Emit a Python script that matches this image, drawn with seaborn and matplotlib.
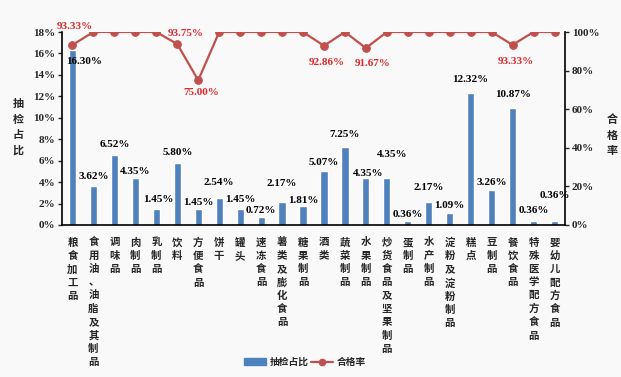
import numpy as np
import pandas as pd
import matplotlib
matplotlib.use("Agg")
import matplotlib.pyplot as plt
import seaborn as sns
from matplotlib.patches import Patch
from matplotlib.lines import Line2D

categories = ['粮食加工品', '食用油、油脂及其制品', '调味品', '肉制品', '乳制品', '饮料',
              '方便食品', '饼干', '罐头', '速冻食品', '薯类及膨化食品', '糖果制品',
              '酒类', '蔬菜制品', '水果制品', '炒货食品及坚果制品', '蛋制品', '水产制品',
              '淀粉及淀粉制品', '糕点', '豆制品', '餐饮食品', '特殊医学配方食品', '婴幼儿配方食品']
share = [16.30, 3.62, 6.52, 4.35, 1.45, 5.80, 1.45, 2.54, 1.45, 0.72, 2.17, 1.81,
         5.07, 7.25, 4.35, 4.35, 0.36, 2.17, 1.09, 12.32, 3.26, 10.87, 0.36, 0.36]
pass_rate = [93.33, 100, 100, 100, 100, 93.75, 75.00, 100, 100, 100, 100, 100,
             92.86, 100, 91.67, 100, 100, 100, 100, 100, 100, 93.33, 100, 100]

# label nudges in pixels (dx, dy up), as placed by hand in the original
bar_dx = [12, 0, 0, 0, 2, 0, 0, 0, 0, 0, 0, 0, 0, 0, 2, 5, 0, 0, 0, 0, 0, 0, 0, 0]
bar_dy = [-11, 10, 11, 7, 10, 10, 7, 15, 10, 7, 18, 5, 8, 13, 5, 24, 7, 14, 8, 13, 8, 14, 11, 26]
rate_off = {0: (2, 18), 5: (8, 11), 6: (3, -12), 12: (3, -17), 14: (7, -15), 21: (3, -17)}

BLUE = '#4F81BD'
RED = '#C0504D'
LABEL_RED = '#E3262A'
BG = '#F9F9F9'
num_font = ['Liberation Serif', 'Noto Sans CJK SC']
cjk_font = ['Noto Sans CJK SC', 'DejaVu Sans']

sns.set_theme(style="white")
plt.rcParams['font.family'] = num_font

df = pd.DataFrame({'cat': categories, 'share': share, 'rate': pass_rate})
pos = np.arange(len(categories))

fig = plt.figure(figsize=(6.21, 3.77), dpi=100, facecolor=BG)
ax = fig.add_axes([62/621, 1 - 225/377, (565 - 62)/621, (225 - 32)/377])
ax.set_facecolor(BG)

sns.barplot(data=df, x='cat', y='share', color=BLUE, width=0.34,
            saturation=1, ax=ax)
ax.set_xlim(-0.5, len(categories) - 0.5)
ax.set_ylim(0, 18)
ax.set_yticks(np.arange(0, 19, 2))
ax.set_yticklabels([f'{v}%' for v in range(0, 19, 2)], fontsize=8,
                   fontweight='bold', family='Liberation Serif')
ax.set_xticks(pos)
ax.set_xticklabels(['\n'.join(c) for c in categories], fontsize=7.5,
                   fontweight='bold', family=cjk_font, linespacing=1.4, va='top')
ax.tick_params(axis='x', length=0, pad=9)
ax.tick_params(axis='y', length=3, width=1, direction='out', pad=2, left=True)
ax.set_xlabel('')
ax.set_ylabel('')
for s in ['left', 'bottom']:
    ax.spines[s].set_color('black')
    ax.spines[s].set_linewidth(1.2)
ax.spines['top'].set_visible(False)
ax.spines['right'].set_visible(False)

for i, v in enumerate(share):
    ax.annotate(f'{v:.2f}%', (i, v), xytext=(bar_dx[i], bar_dy[i]),
                textcoords='offset pixels', ha='center', va='center',
                fontsize=8, fontweight='bold', family='Liberation Serif', color='black')

ax2 = ax.twinx()
ax2.set_position(ax.get_position())
sns.lineplot(x=pos, y=pass_rate, color=RED, linewidth=1.6, marker='o',
             markersize=5.5, markeredgecolor=RED, ax=ax2)
ax2.set_ylim(0, 100)
ax2.set_yticks(np.arange(0, 101, 20))
ax2.set_yticklabels([f'{v}%' for v in range(0, 101, 20)], fontsize=8,
                    fontweight='bold', family='Liberation Serif')
ax2.tick_params(axis='y', length=3, width=1, direction='out', pad=2, right=True)
for s in ['left', 'top', 'bottom']:
    ax2.spines[s].set_visible(False)
ax2.spines['right'].set_color('black')
ax2.spines['right'].set_linewidth(1.2)
ax2.grid(False)

for i, (dx, dy) in rate_off.items():
    ax2.annotate(f'{pass_rate[i]:.2f}%', (i, pass_rate[i]), xytext=(dx, dy),
                 textcoords='offset pixels', ha='center', va='center',
                 fontsize=8, fontweight='bold', family='Liberation Serif', color=LABEL_RED)

fig.text(18/621, 1 - 127/377, '\n'.join('抽检占比'), ha='center', va='center',
         fontsize=8, fontweight='bold', family=cjk_font, linespacing=1.25)
fig.text(612/621, 1 - 135/377, '\n'.join('合格率'), ha='center', va='center',
         fontsize=8, fontweight='bold', family=cjk_font, linespacing=1.25)

handles = [Patch(facecolor=BLUE, edgecolor=BLUE),
           Line2D([0], [0], color=RED, linewidth=1.6, marker='o', markersize=4.5)]
fig.legend(handles, ['抽检占比', '合格率'], loc='center', bbox_to_anchor=(305/621, 1 - 362/377),
           ncol=2, frameon=False, prop={'family': cjk_font, 'size': 7, 'weight': 'bold'},
           handlelength=2.2, handleheight=0.6, columnspacing=0.3, handletextpad=0.4)

fig.savefig('out.png', dpi=100, facecolor=BG)
